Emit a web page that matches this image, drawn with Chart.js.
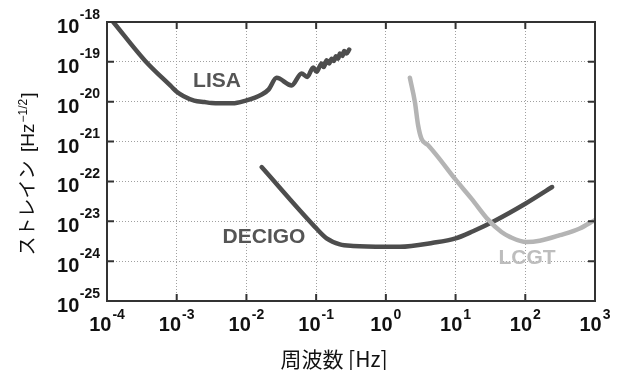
<!DOCTYPE html>
<html>
<head>
<meta charset="utf-8">
<script src="https://cdn.jsdelivr.net/npm/chart.js@4/dist/chart.umd.min.js"></script>
<style>
html,body{margin:0;padding:0;background:#fff;}
#wrap{width:618px;height:370px;position:relative;}
</style>
</head>
<body>
<div id="wrap"><canvas id="c" width="618" height="370"></canvas></div>
<script>
// ---- data ----
const xTicks = [1e-4, 1e-3, 1e-2, 1e-1, 1e0, 1e1, 1e2, 1e3];
const yTicks = [1e-25, 1e-24, 1e-23, 1e-22, 1e-21, 1e-20, 1e-19, 1e-18];

const lisaFreq = [1.23e-4, 3.51e-4, 8.51e-4, 1.0e-3, 1.26e-3, 1.78e-3, 2.51e-3, 3.16e-3, 6.3e-3, 9.5e-3, 1.66e-2, 2.09e-2,
  2.71e-2, 4.45e-2, 6.18e-2, 7.45e-2, 9.08e-2, 0.1014, 0.1197, 0.1291, 0.1413, 0.1538, 0.1667, 0.1795,
  0.1919, 0.2070, 0.2188, 0.2393, 0.2523, 0.2729, 0.2979];
const lisaStrain = [1.0e-18, 1.07e-19, 2.34e-20, 1.78e-20, 1.38e-20, 1.07e-20, 9.8e-21, 9.3e-21, 9.1e-21, 1.05e-20, 1.51e-20, 2.04e-20,
  3.98e-20, 2.57e-20, 5.13e-20, 4.17e-20, 7.24e-20, 5.62e-20, 9.12e-20, 7.41e-20, 1.10e-19, 9.12e-20, 1.20e-19, 1.05e-19,
  1.38e-19, 1.20e-19, 1.62e-19, 1.41e-19, 1.86e-19, 1.62e-19, 2.04e-19];

const decigoFreq = [0.01652, 0.0959, 0.1413, 0.2188, 0.3396, 1.0, 1.585, 4.76, 10, 17.8, 35.5, 100, 242.7];
const decigoStrain = [2.29e-22, 7.24e-24, 3.72e-24, 2.63e-24, 2.40e-24, 2.29e-24, 2.29e-24, 2.88e-24, 3.72e-24, 5.62e-24, 1.0e-23, 2.75e-23, 7.24e-23];

const lcgtFreq = [2.21, 2.61, 2.90, 3.25, 4.04, 5.62, 9.75, 16.9, 29.3, 45.6, 60.0, 104, 161, 313, 604, 991];
const lcgtStrain = [3.98e-20, 9.8e-21, 2.57e-21, 1.17e-21, 8.1e-22, 4.07e-22, 1.17e-22, 3.72e-23, 1.10e-23, 5.37e-24, 4.07e-24, 3.02e-24, 3.24e-24, 4.47e-24, 6.61e-24, 1.07e-23];

const seriesNames = ['LISA', 'DECIGO', 'LCGT'];
const xTitle = '周波数 [Hz]';
const yTitleSup = '−1/2';
const yTitleEnd = ']';

// ---- styles ----
const DARK = '#4d4d4d';
const LIGHT = '#b4b4b4';

function pts(xs, ys){ return xs.map((x,i)=>({x:x, y:ys[i]})); }

const expStr = v => String(Math.round(Math.log10(v)));

const decor = {
  id: 'decor',
  afterDatasetsDraw(chart){
    const ctx = chart.ctx;
    const a = chart.chartArea;
    const xs = chart.scales.x, ys = chart.scales.y;
    ctx.save();
    // frame
    ctx.strokeStyle = '#333';
    ctx.lineWidth = 2;
    ctx.strokeRect(a.left, a.top, a.right - a.left, a.bottom - a.top);
    // inward ticks
    ctx.beginPath();
    xTicks.forEach(v => {
      const px = xs.getPixelForValue(v);
      ctx.moveTo(px, a.top); ctx.lineTo(px, a.top + 7);
      ctx.moveTo(px, a.bottom); ctx.lineTo(px, a.bottom - 7);
    });
    yTicks.forEach(v => {
      const py = ys.getPixelForValue(v);
      ctx.moveTo(a.left, py); ctx.lineTo(a.left + 7, py);
      ctx.moveTo(a.right, py); ctx.lineTo(a.right - 7, py);
    });
    ctx.stroke();

    // tick labels
    ctx.fillStyle = '#111';
    ctx.textBaseline = 'alphabetic';
    const bigF = 'bold 20px "Liberation Sans", Arial, sans-serif';
    const supF = 'bold 14px "Liberation Sans", Arial, sans-serif';
    yTicks.forEach(v => {
      const py = ys.getPixelForValue(v);
      const e = expStr(v);
      ctx.font = supF;
      const ew = ctx.measureText(e).width;
      ctx.textAlign = 'left';
      ctx.fillText(e, 100 - ew, py - 3.5);
      ctx.font = bigF;
      ctx.textAlign = 'right';
      ctx.fillText('10', 100 - ew - 0.5, py + 11);
    });
    xTicks.forEach(v => {
      const px = xs.getPixelForValue(v);
      const e = expStr(v);
      ctx.font = supF;
      const ew = ctx.measureText(e).width;
      ctx.font = bigF;
      const bw = ctx.measureText('10').width;
      const start = px - (bw + 1 + ew) / 2;
      ctx.textAlign = 'left';
      ctx.fillText('10', start, a.bottom + 30);
      ctx.font = supF;
      ctx.fillText(e, start + bw + 1, a.bottom + 17.5);
    });

    // series labels
    ctx.textAlign = 'center';
    ctx.textBaseline = 'middle';
    ctx.font = 'bold 21px "Liberation Sans", Arial, sans-serif';
    ctx.fillStyle = '#555';
    ctx.fillText(seriesNames[0], 217, 81);
    ctx.fillText(seriesNames[1], 264, 237);
    ctx.fillStyle = '#bdbdbd';
    ctx.fillText(seriesNames[2], 527, 258);

    // x title
    ctx.fillStyle = '#111';
    ctx.font = '21px "Noto Sans CJK JP", sans-serif';
    ctx.fillText(xTitle, 334, 359);

    // y title (rotated)
    ctx.translate(27, 174);
    ctx.rotate(-Math.PI / 2);
    const mF = '19px "Noto Sans CJK JP", sans-serif';
    const sF = '12px "Liberation Sans", Arial, sans-serif';
    const mainF = '19px "Liberation Sans", Arial, sans-serif';
    ctx.font = mF;
    const jp = 'ストレイン  ';
    const w1 = ctx.measureText(jp).width;
    ctx.font = mainF;
    const hz = '[Hz';
    const w2 = ctx.measureText(hz).width;
    ctx.font = sF;
    const w3 = ctx.measureText(yTitleSup).width;
    ctx.font = mainF;
    const w4 = ctx.measureText(yTitleEnd).width;
    const tot = w1 + w2 + w3 + w4 + 2;
    let cx = -tot / 2;
    ctx.textAlign = 'left';
    ctx.textBaseline = 'alphabetic';
    ctx.font = mF;
    ctx.fillText(jp, cx, 7); cx += w1;
    ctx.font = mainF;
    ctx.fillText(hz, cx, 7); cx += w2 + 1;
    ctx.font = sF;
    ctx.fillText(yTitleSup, cx, -0.5); cx += w3 + 1;
    ctx.font = mainF;
    ctx.fillText(yTitleEnd, cx, 7);
    ctx.restore();
  }
};

const lineDs = (label, xs, ys, color) => ({
  label: label,
  data: pts(xs, ys),
  showLine: true,
  borderColor: color,
  backgroundColor: color,
  borderWidth: 4.5,
  pointRadius: 0,
  cubicInterpolationMode: 'monotone',
  borderCapStyle: 'round',
  borderJoinStyle: 'round',
  fill: false
});

new Chart(document.getElementById('c'), {
  type: 'scatter',
  data: {
    datasets: [
      lineDs(seriesNames[2], lcgtFreq, lcgtStrain, LIGHT),
      lineDs(seriesNames[1], decigoFreq, decigoStrain, DARK),
      lineDs(seriesNames[0], lisaFreq, lisaStrain, DARK)
    ]
  },
  options: {
    responsive: false,
    animation: false,
    devicePixelRatio: 1,
    layout: { padding: { left: 107, right: 23, top: 22, bottom: 69 } },
    plugins: { legend: { display: false }, tooltip: { enabled: false } },
    scales: {
      x: {
        type: 'logarithmic',
        min: 1e-4, max: 1e3,
        afterBuildTicks: s => { s.ticks = xTicks.map(v => ({ value: v })); },
        ticks: { display: false },
        grid: { color: '#a0a0a0', lineWidth: 1, drawTicks: false },
        border: { display: false, dash: [1, 2] }
      },
      y: {
        type: 'logarithmic',
        min: 1e-25, max: 1e-18,
        afterBuildTicks: s => { s.ticks = yTicks.map(v => ({ value: v })); },
        ticks: { display: false },
        grid: { color: '#a0a0a0', lineWidth: 1, drawTicks: false },
        border: { display: false, dash: [1, 2] }
      }
    }
  },
  plugins: [decor]
});
</script>
</body>
</html>
